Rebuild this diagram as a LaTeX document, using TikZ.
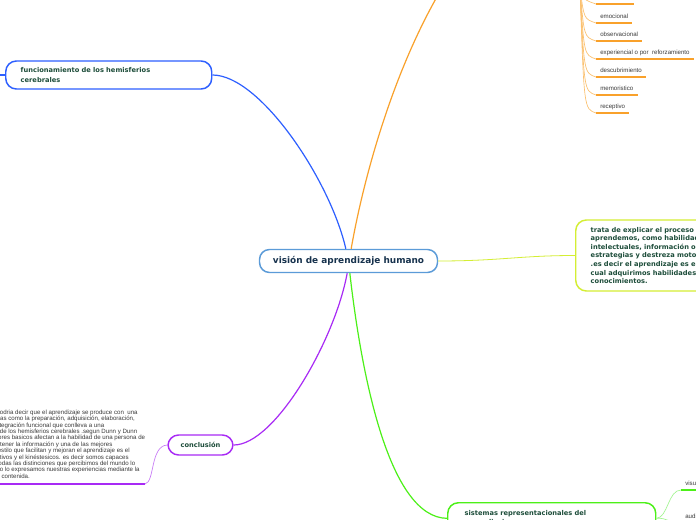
\documentclass[tikz,border=0pt]{standalone}
\usepackage{fontspec}
\setmainfont{DejaVu Sans}
\newfontfamily\leaffont{Liberation Sans}
\usepackage{xcolor}
\usetikzlibrary{positioning}
\definecolor{rootline}{HTML}{5B9BD8}
\definecolor{roottext}{HTML}{17324D}
\definecolor{topictext}{HTML}{1D4D3A}
\definecolor{leaftext}{HTML}{3A3A3A}
\definecolor{bluebr}{HTML}{2D5FFF}
\definecolor{orangebr}{HTML}{F9A12B}
\definecolor{orangetw}{HTML}{FBC170}
\definecolor{limebr}{HTML}{D4EE34}
\definecolor{greenbr}{HTML}{4CF018}
\definecolor{greentw}{HTML}{A2F590}
\definecolor{purplebr}{HTML}{A82AF5}
\definecolor{purpletw}{HTML}{C77AF6}
\tikzset{
  topic/.style={draw=#1, line width=1.1pt, rounded corners=8pt, fill=white,
                font=\bfseries\fontsize{5}{7}\selectfont, text=topictext,
                align=left, inner ysep=0pt},
  leaf/.style={font=\leaffont\fontsize{4.6}{5}\selectfont, text=leaftext,
               inner xsep=3pt, inner ysep=3.4pt, text depth=0pt, anchor=south west},
  branch/.style={draw=#1, line width=0.9pt},
  twig/.style={draw=#1, line width=0.5pt},
  uline/.style={draw=#1, line width=1.5pt}}

\begin{document}
\begin{tikzpicture}[x=0.75pt, y=-0.75pt]
  \useasboundingbox (0,0) rectangle (696,520);
  \fill[white] (0,0) rectangle (696,520);
  \clip (0,0) rectangle (696,520);
  % centre
  \node[topic=rootline, minimum width=133.5pt, minimum height=17.25pt, rounded corners=7.5pt,
        font=\bfseries\fontsize{6.7}{8}\selectfont, text=roottext, align=center]
        (root) at (348.5,261) {visión de aprendizaje humano};
  % left: hemispheres
  \node[topic=bluebr, anchor=west, minimum width=154.5pt, minimum height=21pt,
        inner xsep=11.25pt, text width=132pt] (hemis) at (5,75)
        {funcionamiento de los hemisferios\\cerebrales};
  \coordinate (hemisOut) at (-15,75);
  \draw[branch=bluebr] (hemis.west) -- (hemisOut);
  \draw[branch=bluebr] (hemis.east) .. controls (260,75) and (330,180) .. ([xshift=-2pt]root.north);
  % top: kinds of learning, parent off the page
  \coordinate (typesUp) at (447,-20);
  \coordinate (typesHub) at (580,-12);
  \draw[branch=orangebr] ([xshift=2pt]root.north) .. controls (365,170) and (397,60) .. (typesUp);
  \foreach \i/\y/\t in {1/4/situacional, 2/23/emocional, 3/41/observacional,
                        4/59/experiencial o por~ reforzamiento, 5/77/descubrimiento,
                        6/95/memoristico, 7/113/receptivo}{
    \node[leaf] (kind\i) at (596,\y) {\t};
    \draw[twig=orangetw] (typesHub) .. controls (584,\y-4) .. (kind\i.south west);
    \draw[uline=orangebr] (kind\i.south west) -- (kind\i.south east);}
  % right: definition
  \node[topic=limebr, anchor=west, minimum height=53.25pt, inner xsep=11.25pt, text width=150pt,
        font=\bfseries\fontsize{5}{6.4}\selectfont] (trata) at (575,255.5)
        {trata de explicar el proceso como\\aprendemos, como habilidades\\intelectuales, información o\\estrategias y destreza motoras\\.es decir el aprendizaje es el\\cual adquirimos habilidades y\\conocimientos.};
  \draw[branch=limebr, line width=0.6pt] (root.east) .. controls (500,261) and (520,255.5) .. (trata.west);
  % bottom: representational systems
  \node[topic=greenbr, anchor=north west, minimum width=156pt, minimum height=23.4pt,
        inner xsep=12.75pt, text width=130.5pt] (sistemas) at (447,502)
        {sistemas representacionales del\\aprendizaje};
  \draw[branch=greenbr] ([xshift=1pt]root.south) .. controls (362,380) and (390,517.6) .. (sistemas.west);
  \node[leaf] (visual) at (681,490) {visual};
  \node[leaf] (auditivo) at (681,523) {auditivo};
  \draw[twig=greentw] (sistemas.east) .. controls (668,517.6) and (668,490) .. (visual.south west);
  \draw[twig=greentw] (sistemas.east) .. controls (668,517.6) and (668,523) .. (auditivo.south west);
  \draw[uline=greenbr] (visual.south west) -- (visual.south east);
  % conclusion
  \node[topic=purplebr, minimum width=48.75pt, minimum height=15pt, align=center]
        (concl) at (200.5,445) {conclusión};
  \draw[branch=purplebr] (concl.east) .. controls (275,445) and (335,340) .. ([xshift=-1pt]root.south);
  \node[leaf, anchor=north west, align=left, inner sep=0pt,
        font=\leaffont\fontsize{4.6}{4.8}\selectfont] (resumen) at (-12,409.5)
        {se podria decir que el aprendizaje se produce con~ una\\
         etapas como la preparación, adquisición, elaboración,\\
         la integración funcional que conlleva a una\\
         uso de los hemisferios cerebrales .segun Dunn y Dunn\\
         factores basicos afectan a la habilidad de una persona de\\
         mantener la información y una de las mejores\\
         los estilo que facilitan y mejoran el aprendizaje es el\\
         auditivos y el kinéstesicos. es decir somos capaces\\
         de todas las distinciones que percibimos del mundo lo\\
         como lo expresamos nuestras experiencias mediante la\\
         idea contenida.};
  \coordinate (resumenIn) at (-20,484);
  \coordinate (resumenEnd) at (145,484);
  \draw[uline=purplebr] (resumenIn) -- (resumenEnd);
  \draw[twig=purpletw] (resumenEnd) .. controls (155,482) and (150,446) .. (concl.west);
\end{tikzpicture}
\end{document}
